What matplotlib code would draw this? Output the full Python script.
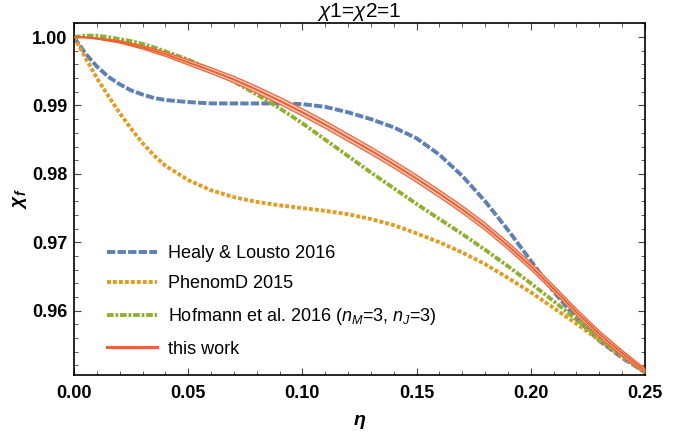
import matplotlib
matplotlib.use("Agg")
import matplotlib.pyplot as plt
from matplotlib.lines import Line2D
from matplotlib.ticker import MultipleLocator, FormatStrFormatter
import numpy as np

plt.rcParams['font.family'] = ['Liberation Sans', 'DejaVu Sans']
plt.rcParams['mathtext.fontset'] = 'custom'
plt.rcParams['mathtext.rm'] = 'Liberation Sans'
plt.rcParams['mathtext.it'] = 'Liberation Sans:italic'
plt.rcParams['mathtext.bf'] = 'Liberation Sans:bold:italic'
plt.rcParams['lines.scale_dashes'] = False

# ---------------- data ----------------
eta = [0.0, 0.005, 0.01, 0.015, 0.02, 0.025, 0.03, 0.035, 0.04,
       0.05, 0.06, 0.07, 0.08, 0.09, 0.10, 0.11, 0.12, 0.13, 0.14, 0.15,
       0.16, 0.17, 0.18, 0.19, 0.20, 0.21, 0.22, 0.23, 0.24, 0.25]

healy = [1.0000, 0.9976, 0.9957, 0.9942, 0.9931, 0.9922, 0.9916, 0.9911, 0.9908,
         0.9905, 0.9903, 0.9903, 0.9903, 0.9903, 0.9902, 0.9898, 0.9890, 0.9880,
         0.9868, 0.9852, 0.9828, 0.9797, 0.9760, 0.9718, 0.9673, 0.9628, 0.9588,
         0.9556, 0.9531, 0.9510]

phenomd = [1.0000, 0.9970, 0.9940, 0.9914, 0.9889, 0.9866, 0.9845, 0.9827, 0.9812,
           0.9791, 0.9776, 0.9766, 0.9759, 0.9754, 0.9750, 0.9746, 0.9741, 0.9734,
           0.9725, 0.9713, 0.9700, 0.9685, 0.9668, 0.9648, 0.9627, 0.9604, 0.9581,
           0.9557, 0.9533, 0.9510]

hofmann = [1.0000, 1.0002, 1.0002, 1.0000, 0.9997, 0.9994, 0.9990, 0.9985, 0.9979,
           0.9967, 0.9952, 0.9935, 0.9916, 0.9896, 0.9874, 0.9850, 0.9826, 0.9802,
           0.9779, 0.9756, 0.9734, 0.9712, 0.9689, 0.9665, 0.9640, 0.9614, 0.9587,
           0.9560, 0.9535, 0.9510]

this_work = [1.0000, 0.99995, 0.9998, 0.99955, 0.9993, 0.9989, 0.9985, 0.9980, 0.9975,
             0.9963, 0.9951, 0.9938, 0.9923, 0.9907, 0.9890, 0.9872, 0.9853, 0.9834,
             0.9814, 0.9793, 0.9771, 0.9748, 0.9723, 0.9695, 0.9665, 0.9632, 0.9598,
             0.9566, 0.9538, 0.9512]

this_work_err = [0.0, 0.00004, 0.00008, 0.00012, 0.00016, 0.0002, 0.00024, 0.00028,
                 0.00031, 0.00037, 0.00042, 0.00046, 0.00049, 0.00051, 0.00052,
                 0.00052, 0.00052, 0.00052, 0.00052, 0.00052, 0.00052, 0.00052,
                 0.00052, 0.00051, 0.0005, 0.00048, 0.00046, 0.00043, 0.0004, 0.00035]

labels = ["Healy & Lousto 2016", "PhenomD 2015",
          "Hofmann et al. 2016 ($n_M$=3, $n_J$=3)", "this work"]
xticks = [0.00, 0.05, 0.10, 0.15, 0.20, 0.25]
yticks = [0.96, 0.97, 0.98, 0.99, 1.00]

c_blue = '#5E81B5'
c_orange = '#E19C24'
c_green = '#8FB032'
c_red = '#EB6235'

d_blue = (6.0, 1.6)
d_orange = (2.8, 1.5)
d_green = (4.8, 1.3, 2.0, 1.3)

# ---------------- figure ----------------
fig = plt.figure(figsize=(6.88, 4.32), dpi=100)
ax = fig.add_axes([74/688, 1-375/432, (645-74)/688, (375-22.7)/432])

ax.plot(eta, healy, color=c_blue, lw=2.8, dashes=d_blue, dash_capstyle='butt')
ax.plot(eta, phenomd, color=c_orange, lw=2.8, dashes=d_orange, dash_capstyle='butt')
ax.plot(eta, hofmann, color=c_green, lw=2.8, dashes=d_green, dash_capstyle='butt')

tw = np.array(this_work)
err = np.array(this_work_err)
ax.fill_between(eta, tw - err, tw + err, color='#F9D3C6', lw=0, zorder=3)
ax.plot(eta, tw + err, color=c_red, lw=0.9, zorder=4)
ax.plot(eta, tw - err, color=c_red, lw=0.9, zorder=4)
ax.plot(eta, tw, color=c_red, lw=1.5, zorder=4)

ax.set_xlim(0, 0.25)
ax.set_ylim(0.9506, 1.0021)

ax.set_xticks(xticks)
ax.set_yticks(yticks)
ax.xaxis.set_major_formatter(FormatStrFormatter('%.2f'))
ax.yaxis.set_major_formatter(FormatStrFormatter('%.2f'))
ax.xaxis.set_minor_locator(MultipleLocator(0.01))
ax.yaxis.set_minor_locator(MultipleLocator(0.002))
ax.tick_params(which='both', direction='in', top=True, right=True, color='#444444')
ax.tick_params(which='major', length=5, width=0.8)
ax.tick_params(which='minor', length=3, width=0.6)
ax.tick_params(axis='x', which='major', pad=7)
ax.tick_params(axis='y', which='major', pad=5)
for lab in ax.get_xticklabels() + ax.get_yticklabels():
    lab.set_fontweight('bold')
    lab.set_fontsize(13)
for sp in ax.spines.values():
    sp.set_linewidth(1.2)
    sp.set_color('black')

ax.set_title(r'$\chi$1=$\chi$2=1', fontsize=15, pad=3)
ax.set_xlabel(r'$\mathbf{\eta}$', fontsize=14, labelpad=8)
ax.set_ylabel(r'$\mathbf{\chi_f}$', fontsize=14, labelpad=2)

handles = [
    Line2D([], [], color=c_blue, lw=2.8, dashes=d_blue),
    Line2D([], [], color=c_orange, lw=2.8, dashes=d_orange),
    Line2D([], [], color=c_green, lw=2.8, dashes=d_green),
    Line2D([], [], color=c_red, lw=2.2),
]
leg = ax.legend(handles, labels, loc='lower left', bbox_to_anchor=(0.045, 0.029),
                frameon=False, fontsize=13, handlelength=2.8, handletextpad=0.6,
                labelspacing=0.75, borderaxespad=0)

fig.savefig('out.png', dpi=100)
